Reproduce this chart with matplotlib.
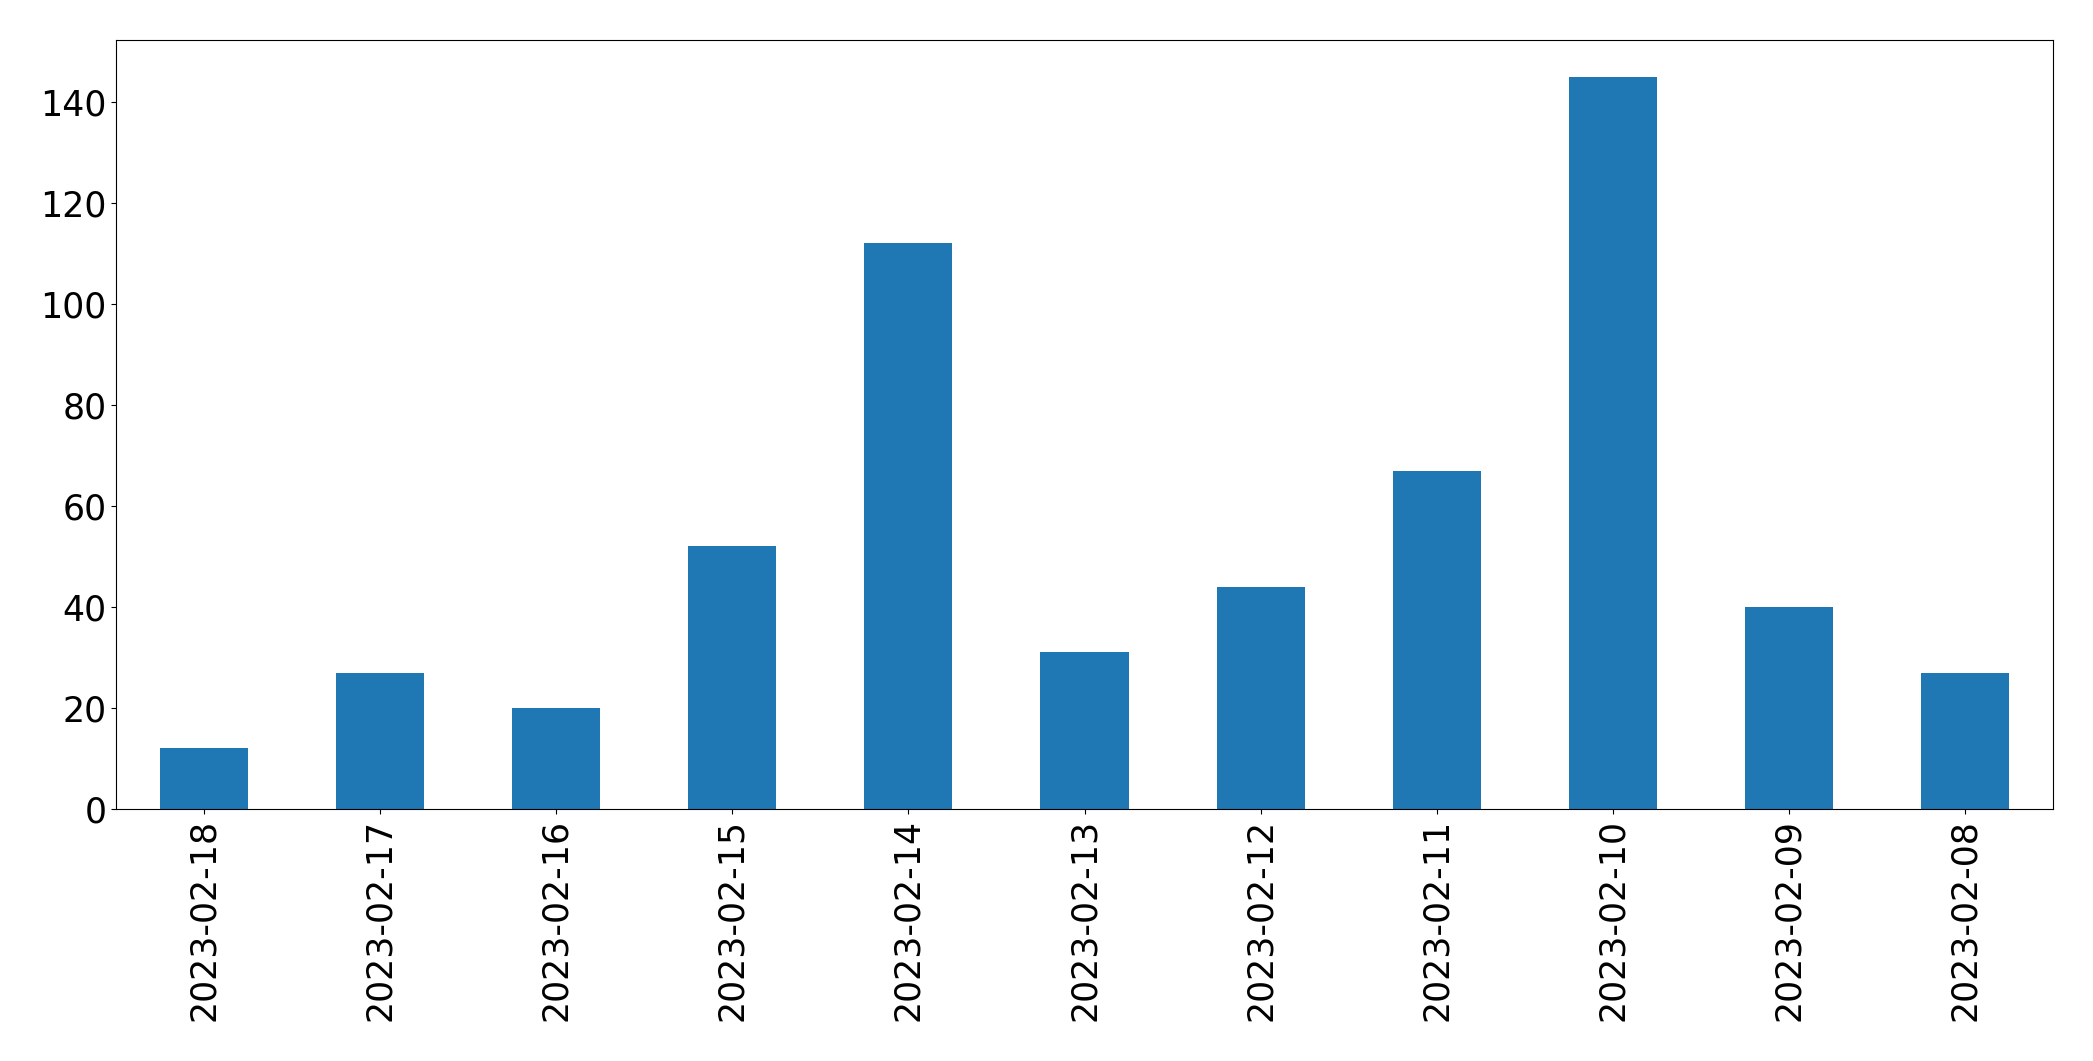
import matplotlib
matplotlib.use('Agg')
import matplotlib.pyplot as plt
import pandas as pd

dates = ['2023-02-18', '2023-02-17', '2023-02-16', '2023-02-15', '2023-02-14', '2023-02-13',
         '2023-02-12', '2023-02-11', '2023-02-10', '2023-02-09', '2023-02-08']
counts = [12, 27, 20, 52, 112, 31, 44, 67, 145, 40, 27]


def plot_counts(dates, counts):
    series = pd.Series(counts, index=dates)
    fig = plt.figure(figsize=(20.93, 10.61), dpi=100)
    ax = fig.add_axes([116 / 2093, 1 - 809 / 1061, (2053 - 116) / 2093, (809 - 40) / 1061])
    series.plot(kind='bar', ax=ax, color='#1f77b4')
    ax.tick_params(axis='both', labelsize=25)
    fig.savefig('out.png', dpi=100)


if __name__ == '__main__':
    plot_counts(dates, counts)
